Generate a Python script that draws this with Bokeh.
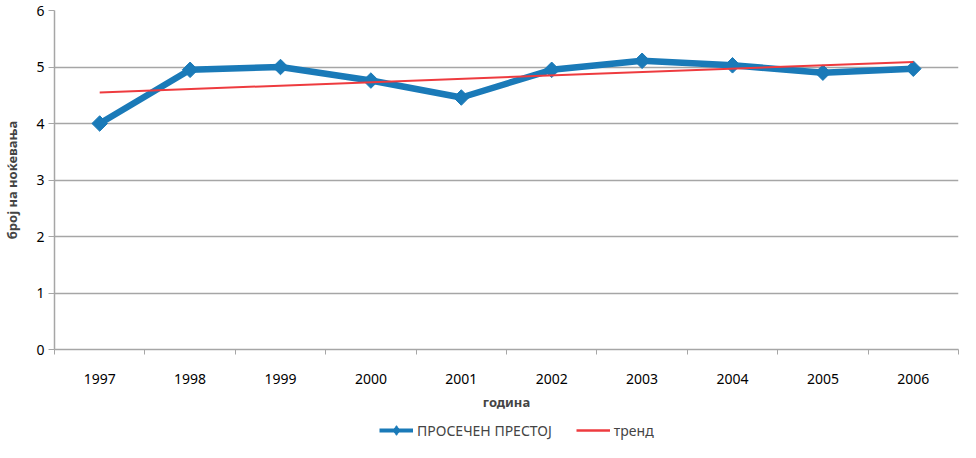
from bokeh.plotting import figure
from bokeh.layouts import column
from bokeh.models import FixedTicker, Legend, LegendItem, ColumnDataSource, Range1d
from bokeh.embed import file_html
from bokeh.resources import INLINE
import math

years = ["1997", "1998", "1999", "2000", "2001", "2002", "2003", "2004", "2005", "2006"]
prestoj = [4.0, 4.95, 5.0, 4.76, 4.46, 4.95, 5.11, 5.03, 4.9, 4.97]
trend_years = ["1997", "2006"]
trend_vals = [4.55, 5.09]

FONT = "Noto Sans"
BLUE = "#1a7ab8"
RED = "#ee3b3f"
GRID = "#a6a6a6"

xi = list(range(len(years)))
txi = [years.index(y) for y in trend_years]

p = figure(width=960, height=414, output_backend="svg", toolbar_location=None,
           x_range=Range1d(-0.5, len(years) - 0.5), y_range=Range1d(0, 6))
p.min_border_left = 44
p.min_border_right = 2
p.min_border_top = 10
p.min_border_bottom = 65
p.outline_line_color = None

p.xaxis.ticker = FixedTicker(ticks=xi, minor_ticks=[i - 0.5 for i in range(len(years) + 1)])
p.xaxis.major_label_overrides = {i: y for i, y in zip(xi, years)}
p.xaxis.major_tick_line_color = None
p.xaxis.minor_tick_line_color = GRID
p.xaxis.minor_tick_out = 5
p.xaxis.minor_tick_in = 0
p.xaxis.axis_line_color = GRID
p.xaxis.axis_line_width = 1.5
p.xaxis.major_label_standoff = 18
p.xaxis.major_label_text_font = FONT
p.xaxis.major_label_text_font_size = "14px"
p.xaxis.major_label_text_color = "#000000"
p.xaxis.axis_label = "година"
p.xaxis.axis_label_text_font = FONT
p.xaxis.axis_label_text_font_size = "13px"
p.xaxis.axis_label_text_font_style = "bold"
p.xaxis.axis_label_standoff = 6

p.yaxis.ticker = FixedTicker(ticks=[0, 1, 2, 3, 4, 5, 6], minor_ticks=[])
p.yaxis.major_tick_line_color = GRID
p.yaxis.major_tick_out = 6
p.yaxis.major_tick_in = 0
p.yaxis.axis_line_color = GRID
p.yaxis.axis_line_width = 1.5
p.yaxis.major_label_text_font = FONT
p.yaxis.major_label_text_font_size = "14px"
p.yaxis.major_label_text_color = "#000000"
p.yaxis.major_label_standoff = 4
p.yaxis.axis_label = "број на ноќевања"
p.yaxis.axis_label_text_font = FONT
p.yaxis.axis_label_text_font_size = "13px"
p.yaxis.axis_label_text_font_style = "bold"
p.yaxis.axis_label_standoff = 12

p.xgrid.grid_line_color = None
p.ygrid.grid_line_color = GRID
p.ygrid.grid_line_width = 1.3

src = ColumnDataSource(dict(x=xi, y=prestoj))
p.line("x", "y", source=src, line_color=BLUE, line_width=6.5, line_join="round")
p.scatter("x", "y", source=src, marker="square", angle=math.pi / 4, size=11,
          fill_color=BLUE, line_color=BLUE)
p.line(txi, trend_vals, line_color=RED, line_width=2)

# legend strip (separate figure below the chart); its glyphs only carry legend styling
lg = figure(width=960, height=28, output_backend="svg", toolbar_location=None,
            x_range=Range1d(0, 1), y_range=Range1d(0, 1))
lg.axis.visible = False
lg.grid.visible = False
lg.outline_line_color = None
lg.min_border = 0
nan_src = ColumnDataSource(dict(x=[float("nan")], y=[float("nan")]))
d1 = lg.line("x", "y", source=nan_src, line_color=BLUE, line_width=4)
d2 = lg.scatter("x", "y", source=nan_src, marker="diamond", size=13,
                fill_color=BLUE, line_color=BLUE)
d3 = lg.line("x", "y", source=nan_src, line_color=RED, line_width=2.5)
legend = Legend(items=[LegendItem(label="ПРОСЕЧЕН ПРЕСТОЈ", renderers=[d1, d2]),
                       LegendItem(label="тренд", renderers=[d3])],
                orientation="horizontal", location=(325, 0),
                label_text_font=FONT, label_text_font_size="14px",
                glyph_width=34, glyph_height=24, label_height=24, spacing=24,
                padding=2, margin=0, label_standoff=4,
                border_line_color=None, background_fill_alpha=0)
lg.add_layout(legend, "center")

open("out.html", "w").write(file_html(column(p, lg, spacing=0), INLINE))
